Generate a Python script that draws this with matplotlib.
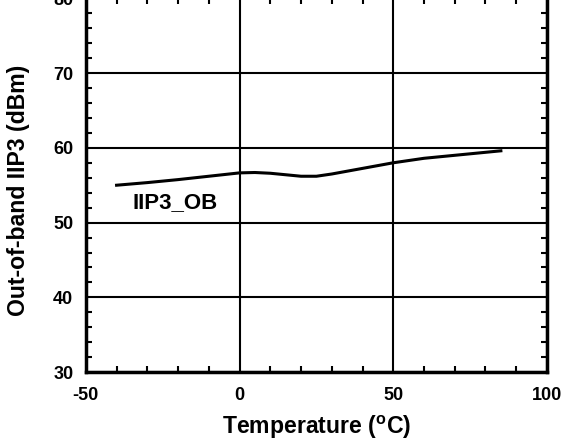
import matplotlib
matplotlib.use("Agg")
import matplotlib.pyplot as plt
from matplotlib.ticker import MultipleLocator

plt.rcParams['font.family'] = ['Liberation Sans', 'DejaVu Sans']
plt.rcParams['font.weight'] = 'bold'
plt.rcParams['axes.unicode_minus'] = False

# data
temp = [-40, -30, -20, -10, 0, 5, 10, 15, 20, 25, 30, 40, 50, 60, 70, 85]
iip3_ob = [55.0, 55.35, 55.75, 56.2, 56.65, 56.7, 56.6, 56.4, 56.2, 56.2, 56.5,
           57.25, 58.0, 58.6, 59.0, 59.6]
xticks = [-50, 0, 50, 100]
yticks = [30, 40, 50, 60, 70, 80]

fig = plt.figure(figsize=(5.61, 4.41), dpi=100)
ax = fig.add_axes([0.153, 0.156, 0.822, 0.848])

ax.plot(temp, iip3_ob, color='black', lw=2.2, solid_joinstyle='round')
ax.text(-20.8, 52.7, 'IIP3_OB', fontsize=16, fontweight='bold', ha='center', va='center')

ax.set_xlim(-50, 100)
ax.set_ylim(30, 80)
ax.set_xticks(xticks)
ax.set_yticks(yticks)
ax.xaxis.set_minor_locator(MultipleLocator(10))
ax.yaxis.set_minor_locator(MultipleLocator(2))
ax.tick_params(which='both', direction='in', top=True, right=True, labelsize=13)
ax.tick_params(which='major', length=0)
ax.tick_params(axis='x', which='major', pad=11)
ax.tick_params(axis='y', which='major', pad=9)
ax.tick_params(which='minor', length=4, width=1.5)
ax.grid(which='major', color='black', lw=1.5)
for s in ax.spines.values():
    s.set_linewidth(2.5)

ax.set_xlabel('Temperature ($\\mathregular{^oC}$)', fontsize=16.6, fontweight='bold', labelpad=7)
ax.set_ylabel('Out-of-band IIP3 (dBm)', fontsize=16.6, fontweight='bold', labelpad=17)
ax.yaxis.label.set_y(0.485)

fig.savefig("out.png", dpi=100)
